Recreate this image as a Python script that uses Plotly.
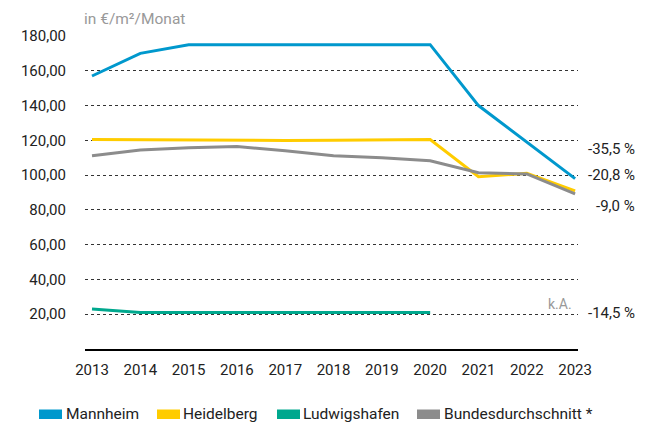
import plotly.graph_objects as go

years = list(range(2013, 2024))
mannheim = [157, 170, 175, 175, 175, 175, 175, 175, 140, 119, 98]
heidelberg = [120.5, 120.3, 120.1, 120, 119.9, 120, 120.2, 120.5, 99.1, 101, 90.9]
ludwigshafen = [23, 21, 21, 21, 21, 21, 21, 21, None, None, None]
bund = [111.2, 114.5, 115.8, 116.4, 114, 111.2, 110, 108.3, 101.4, 100.7, 89.2]

series_names = ["Mannheim", "Heidelberg", "Ludwigshafen", "Bundesdurchschnitt *"]
colors = ["#0098CD", "#FFCC00", "#00A88E", "#8C8C8C"]
change_labels = ["-35,5 %", "-20,8 %", "-9,0 %", "-14,5 %"]
change_pos = [115, 100.1, 82.3, 20.8]
ytick_vals = [20, 40, 60, 80, 100, 120, 140, 160, 180]

FONT = "Roboto, sans-serif"
# page body has an 8px margin, so the figure is placed at (8, 8)
W, H = 652, 423
ML, MR, MT, MB = 77, 82, 28, 82
PW, PH = W - ML - MR, H - MT - MB


def px_x(p):
    return (p - ML) / PW


def px_y(p):
    return (H - MB - p) / PH


fig = go.Figure()
for name, vals, col in zip(series_names, [mannheim, heidelberg, ludwigshafen, bund], colors):
    fig.add_trace(go.Scatter(x=years, y=vals, mode="lines", name=name,
                             line=dict(color=col, width=3), showlegend=False))

for txt, yv in zip(change_labels, change_pos):
    fig.add_annotation(x=px_x(629), xref="paper", y=yv, yref="y", text=txt,
                       showarrow=False, xanchor="right",
                       font=dict(family=FONT, size=15, color="#222"))

fig.add_annotation(x=2022.98, y=25.8, text="k.A.", showarrow=False, xanchor="right",
                   font=dict(family=FONT, size=14, color="#999"))
fig.add_annotation(x=px_x(74), xref="paper", y=px_y(10.5), yref="paper", yanchor="middle",
                   text="in €/m²/Monat", showarrow=False, xanchor="left",
                   font=dict(family=FONT, size=15.5, color="#999"))

# custom legend (rectangular colour keys)
leg_box_x = [31, 149, 269, 409]
leg_text_x = [56, 173, 293, 434]
for name, col, bx, tx in zip(series_names, colors, leg_box_x, leg_text_x):
    fig.add_shape(type="rect", xref="paper", yref="paper",
                  x0=px_x(bx), x1=px_x(bx + 23), y0=px_y(411), y1=px_y(401.5),
                  fillcolor=col, line=dict(width=0))
    fig.add_annotation(x=px_x(tx), xref="paper", y=px_y(406), yref="paper",
                       text=name, showarrow=False, xanchor="left", yanchor="middle",
                       font=dict(family=FONT, size=15.5, color="#222"))

fig.update_layout(
    width=W, height=H,
    margin=dict(l=ML, r=MR, t=MT, b=MB, autoexpand=False),
    paper_bgcolor="white", plot_bgcolor="white",
    font=dict(family=FONT, size=15, color="#222"),
    separators=",.",
    showlegend=False,
    xaxis=dict(range=[2012.855, 2023.06], tickvals=years, showgrid=False,
               showline=True, linecolor="black", linewidth=1.5, ticks="",
               zeroline=False, ticklabelstandoff=6),
    yaxis=dict(range=[0, 180], tickvals=ytick_vals, tickformat=".2f",
               showgrid=True, gridcolor="#333", griddash="dot", gridwidth=1,
               zeroline=False, ticks="", ticklabelstandoff=18),
)
fig.write_html("out.html")
